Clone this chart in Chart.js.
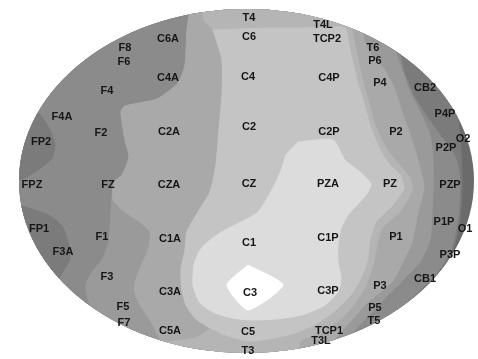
<!DOCTYPE html>
<html><head><meta charset="utf-8">
<script src="https://cdn.jsdelivr.net/npm/chart.js@4/dist/chart.umd.min.js"></script>
<style>html,body{margin:0;padding:0;background:#fff}#wrap{width:478px;height:359px;position:relative}</style>
</head><body><div id="wrap"><canvas id="c"></canvas></div>
<script>
// Electrode labels and their positions on the scalp map
const electrodeNames = ["T4","C6","T4L","TCP2","F8","F6","C6A","T6","P6","C4A","C4","C4P","P4","CB2","F4","F4A","F2","C2A","C2","C2P","P2","P4P","O2","P2P","FP2","FPZ","FZ","CZA","CZ","PZA","PZ","PZP","FP1","F1","C1A","C1","C1P","P1","P1P","O1","F3A","P3P","F3","C3A","C3","C3P","P3","CB1","F5","F7","C5A","C5","P5","T5","TCP1","T3L","T3"];
const electrodeX = [249,249,323,327,125,124,168,373,375,168,248,329,380,425,107,62,101,169,249,329,396,445,463,446,41,32,108,169,249,328,390,450,39,102,170,249,328,396,444,465,63,450,107,170,250,328,380,425,123,124,170,248,375,374,329,321,248];
const electrodeY = [18,37,25,39,48,62,39,48,61,78,77,78,83,88,91,117,133,132,127,132,132,114,139,148,142,185,185,185,184,184,184,185,229,237,239,243,238,237,222,229,252,255,277,292,293,291,286,279,307,323,331,332,308,321,331,341,351];

// Head outline (ellipse): centre and radii
const headCentre = [246.5, 181];
const headRadii = [227.5, 172];

// Contour levels (darkest -> lightest)
const levelColours = ["#6b6b6b","#7b7b7b","#8b8b8b","#9a9a9a","#a9a9a9","#b5b5b5","#c4c4c4","#dcdcdc","#ffffff"];

// Contour band boundaries (superlevel regions), drawn darkest first
const band1 = [[-20,-20],[400,-20],[405,30],[428,58],[446,86],[457,115],[461,150],[462,185],[460,220],[453,250],[438,275],[416,297],[393,318],[372,338],[356,370],[-20,370]];
const band2 = [[-20,-20],[385,-20],[390,30],[400,55],[405,75],[415,98],[428,118],[440,135],[452,150],[458,165],[460,185],[458,220],[451,250],[436,274],[414,296],[391,317],[370,337],[354,370],[-20,370]];
const pocketFP2 = [[34,108],[42,117],[50,130],[55,145],[52,158],[42,167],[28,176],[12,182],[0,160],[0,108]];
const pocketFP1 = [[10,205],[25,207],[50,216],[62,226],[68,242],[70,259],[63,271],[57,282],[52,295],[20,300],[0,260]];
const band3 = [[197,-20],[190,10],[187,30],[185,65],[178,83],[157,99],[125,106],[121,112],[125,140],[129,157],[122,175],[114,182],[111,210],[109,240],[103,258],[92,272],[86,285],[88,300],[98,320],[108,345],[112,370],[330,370],[340,350],[355,330],[372,312],[388,295],[405,278],[420,262],[430,240],[432,215],[433,190],[433,160],[430,135],[420,112],[410,92],[402,70],[395,50],[388,30],[380,-20]];
const band4 = [[197,-20],[190,10],[187,30],[185,65],[178,83],[157,99],[125,106],[121,112],[125,140],[129,157],[122,175],[114,182],[113,200],[125,212],[140,222],[150,232],[148,250],[140,268],[134,288],[140,305],[150,320],[160,340],[165,370],[315,370],[330,345],[350,322],[368,302],[392,282],[402,264],[412,242],[418,212],[424,187],[418,160],[411,137],[403,115],[395,90],[385,70],[368,50],[362,30],[360,-20]];
const band45 = [[200,-20],[352,-20],[352,28],[356,50],[362,78],[368,100],[375,125],[386,148],[398,163],[410,178],[412,190],[400,212],[382,228],[377,245],[373,265],[366,285],[356,302],[342,318],[322,332],[300,342],[300,380],[160,380],[160,345],[195,338],[210,328],[195,318],[186,305],[182,290],[181,270],[185,250],[187,232],[198,212],[210,192],[216,165],[219,130],[222,95],[222,60],[213,30],[204,20]];
const band5 = [[213,30],[240,29],[270,28],[300,28],[330,27],[345,28],[350,50],[357,80],[363,100],[370,125],[380,150],[390,165],[400,175],[404,188],[392,206],[376,222],[370,240],[367,262],[360,280],[350,296],[336,310],[316,324],[292,334],[268,339],[248,341],[228,336],[210,328],[195,318],[186,305],[182,290],[181,270],[185,250],[187,232],[198,212],[210,192],[216,165],[219,130],[222,95],[222,60]];
const band6 = [[298,142],[333,140],[345,160],[360,172],[371,184],[366,195],[356,206],[348,215],[341,228],[338,245],[338,262],[341,278],[338,292],[325,305],[305,314],[285,318],[260,320],[238,319],[215,313],[200,303],[193,285],[194,265],[200,250],[210,240],[225,230],[245,220],[258,212],[268,197],[277,180],[283,165],[286,155]];
const band7 = [[248,265],[283,285],[248,310],[227,285]];

const layers = [
  [band1, 1],[band2, 2],[pocketFP2, 1],[pocketFP1, 1],[band3, 3],[band4, 4],[band45, 5],[band5, 6],[band6, 7],[band7, 8]
];

const datasets = layers.map(([poly, lvl], i) => {
  const pts = poly.map(p => ({x: p[0], y: p[1]}));
  pts.push({x: poly[0][0], y: poly[0][1]});
  return {
    data: pts, showLine: true, fill: 'shape', tension: 0.2,
    backgroundColor: levelColours[lvl], borderColor: levelColours[lvl], borderWidth: 1,
    pointRadius: 0, order: layers.length - i + 1
  };
});
datasets.push({
  data: electrodeNames.map((n, i) => ({x: electrodeX[i], y: electrodeY[i]})),
  pointRadius: 0, showLine: false, order: 0, label: 'electrodes'
});

const headPlugin = {
  id: 'head',
  beforeDatasetsDraw(chart) {
    const {ctx, scales: {x, y}} = chart;
    const cx = x.getPixelForValue(headCentre[0]), cy = y.getPixelForValue(headCentre[1]);
    const rx = Math.abs(x.getPixelForValue(headCentre[0] + headRadii[0]) - cx);
    const ry = Math.abs(y.getPixelForValue(headCentre[1] + headRadii[1]) - cy);
    ctx.save();
    ctx.beginPath();
    ctx.ellipse(cx, cy, rx, ry, 0, 0, Math.PI * 2);
    ctx.fillStyle = levelColours[0];
    ctx.fill();
    ctx.clip();
  },
  afterDatasetsDraw(chart) {
    const {ctx} = chart;
    ctx.restore();
    const meta = chart.getDatasetMeta(chart.data.datasets.length - 1);
    ctx.save();
    ctx.font = 'bold 11px "Liberation Sans", Arial, sans-serif';
    ctx.fillStyle = '#161616';
    ctx.textAlign = 'center';
    ctx.textBaseline = 'middle';
    meta.data.forEach((el, i) => ctx.fillText(electrodeNames[i], el.x, el.y));
    ctx.restore();
  }
};

new Chart(document.getElementById('c'), {
  type: 'scatter',
  data: { datasets },
  options: {
    responsive: true, maintainAspectRatio: false, animation: false, events: [],
    layout: { padding: 0 },
    scales: {
      x: { type: 'linear', min: 0, max: 478, display: false },
      y: { type: 'linear', min: 0, max: 359, reverse: true, display: false }
    },
    plugins: { legend: { display: false }, tooltip: { enabled: false } }
  },
  plugins: [headPlugin]
});
</script>
</body></html>
